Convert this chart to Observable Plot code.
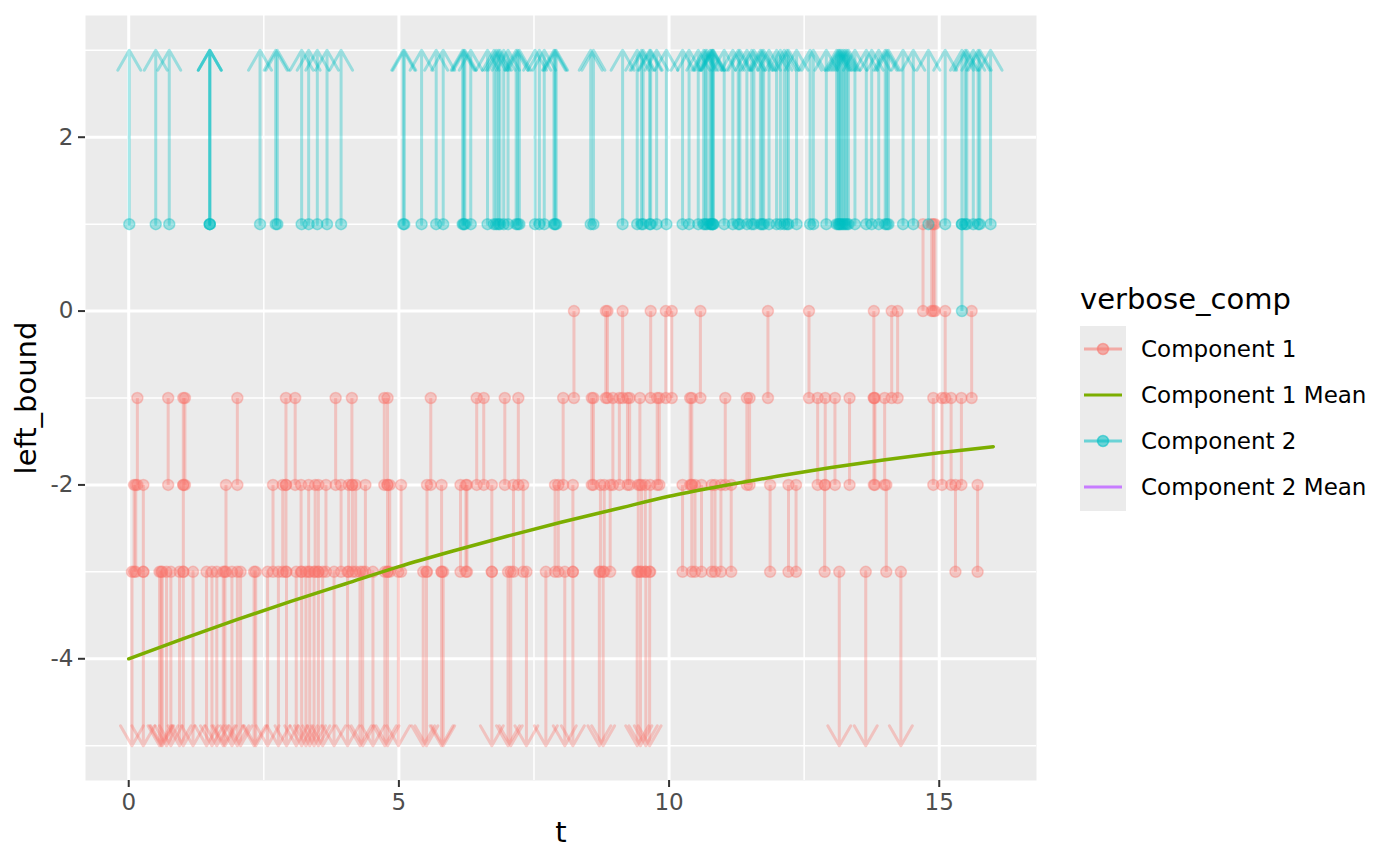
<!DOCTYPE html>
<html>
<head>
<meta charset="utf-8">
<script src="https://cdn.jsdelivr.net/npm/d3@7"></script>
<script src="https://cdn.jsdelivr.net/npm/@observablehq/plot@0.6"></script>
<style>
  html, body { margin: 0; padding: 0; background: #fff; }
  #wrap { position: relative; width: 1400px; height: 865px; font-family: "DejaVu Sans", sans-serif; }
  #wrap svg.chart { position: absolute; left: 0; top: 0; }
  #legend { position: absolute; left: 1040px; top: 0; }
  g[aria-label="x-axis tick"] path, g[aria-label="y-axis tick"] path { stroke: #333333; stroke-width: 2px; }
</style>
</head>
<body>
<div id="wrap"></div>
<script>
// ---------- data ----------
const compLabels = ["Component 1", "Component 1 Mean", "Component 2", "Component 2 Mean"];
const compColors = ["#F8766D", "#7CAE00", "#00BFC4", "#C77CFF"];

const xMajor = [0, 5, 10, 15];
const xMinor = [2.5, 7.5, 12.5];
const yMajor = [-4, -2, 0, 2];
const yMinor = [-5, -3, -1, 1, 3];

// where infinite bounds are drawn (arrow tips)
const infTop = 3;
const infBottom = -5;

// Component 1 intervals, by (left_bound, right_bound)
const c1_downTo_m3 = [0.06, 0.27, 0.57, 0.60, 0.62, 0.70, 0.78, 0.94, 1.01, 1.19, 1.44, 1.54, 1.63, 1.75, 1.78, 1.91,
  2.01, 2.07, 2.32, 2.35, 2.57, 2.77, 2.92, 3.10, 3.20, 3.28, 3.35, 3.43, 3.51, 3.59, 3.80, 4.05, 4.28, 4.33,
  4.52, 4.74, 4.79, 4.99, 5.45, 5.51, 5.79, 5.82, 6.72, 7.02, 7.07, 7.36, 7.72, 8.07, 8.22, 8.71, 8.78,
  9.41, 9.47, 9.57, 9.64, 13.15, 13.64, 14.29];
const c1_m3_m2 = [0.10, 0.13, 0.27, 1.01, 1.80, 2.67, 2.85, 2.91, 3.19, 3.33, 3.45, 3.51, 3.65, 3.93, 4.07, 4.14,
  4.20, 4.38, 4.79, 4.83, 5.04, 5.52, 5.79, 6.14, 6.24, 6.26, 6.72, 7.12, 7.30, 7.89, 7.95, 8.22, 8.73, 8.80,
  8.91, 9.43, 9.49, 9.56, 9.65, 10.25, 10.42, 10.48, 10.60, 10.79, 10.85, 10.96, 11.15, 11.87, 12.21, 12.35,
  12.88, 14.02, 15.30, 15.71];
const c1_m2_m1 = [0.16, 0.73, 1.01, 1.04, 2.01, 2.91, 3.08, 3.83, 4.13, 4.73, 4.79, 5.59, 6.44, 6.57, 6.96, 7.21,
  8.04, 8.57, 8.60, 8.96, 9.08, 9.23, 9.27, 9.46, 9.78, 9.82, 10.39, 10.42, 11.04, 11.44, 11.49, 12.75, 12.89,
  13.07, 13.34, 13.79, 13.81, 13.99, 14.89, 15.05, 15.22, 15.41];
const c1_m1_0 = [8.24, 8.83, 8.86, 9.14, 9.66, 9.94, 10.05, 10.58, 11.83, 12.59, 13.79, 14.12, 14.23, 15.11, 15.60];
const c1_0_1 = [14.70, 14.86, 14.89, 14.92];

// Component 2 intervals
const c2_1_up = [0.01, 0.50, 0.75, 1.50, 1.50, 1.50, 2.43, 2.72, 2.75, 3.20, 3.33, 3.49, 3.67, 3.93,
  5.08, 5.10, 5.42, 5.69, 5.82, 6.18, 6.20, 6.22, 6.33, 6.64, 6.76, 6.80, 6.84, 6.87, 6.94, 7.02, 7.17, 7.20,
  7.23, 7.52, 7.60, 7.69, 7.87, 7.89, 7.91, 8.55, 8.60, 9.14, 9.41, 9.49, 9.52, 9.64, 9.66, 9.77, 9.95,
  10.25, 10.37, 10.54, 10.64, 10.67, 10.70, 10.76, 10.78, 10.80, 10.81, 10.82, 11.02, 11.18, 11.28, 11.31,
  11.44, 11.53, 11.57, 11.69, 11.72, 11.75, 11.85, 11.99, 12.06, 12.13, 12.18, 12.21, 12.36, 12.61, 12.67,
  12.91, 13.10, 13.13, 13.15, 13.17, 13.20, 13.23, 13.26, 13.29, 13.32, 13.44, 13.65, 13.75, 13.88, 14.00,
  14.03, 14.06, 14.33, 14.52, 14.80, 15.11, 15.42, 15.48, 15.51, 15.63, 15.72, 15.75, 15.95];
const c2_0_1 = [15.42];

// Component 1 Mean curve
const meanT = [0, 1, 2, 3, 4, 5, 6, 7, 8, 9, 10, 11, 12, 13, 14, 15, 16];
const mean1 = [-4.00, -3.77, -3.55, -3.34, -3.14, -2.94, -2.76, -2.59, -2.43, -2.28, -2.13, -2.01, -1.90, -1.80, -1.71, -1.63, -1.56];

// ---------- build tables ----------
const rows = [];
function add(ts, lo, hi, comp) { for (const t of ts) rows.push({t, lo, hi, comp}); }
add(c1_downTo_m3, -Infinity, -3, compLabels[0]);
add(c1_m3_m2, -3, -2, compLabels[0]);
add(c1_m2_m1, -2, -1, compLabels[0]);
add(c1_m1_0, -1, 0, compLabels[0]);
add(c1_0_1, 0, 1, compLabels[0]);
add(c2_1_up, 1, Infinity, compLabels[2]);
add(c2_0_1, 0, 1, compLabels[2]);

const finite = rows.filter(d => isFinite(d.lo) && isFinite(d.hi));
const arrows = rows.filter(d => !isFinite(d.lo) || !isFinite(d.hi)).map(d => ({
  t: d.t, comp: d.comp,
  from: isFinite(d.lo) ? d.lo : d.hi,
  to: isFinite(d.lo) ? infTop : infBottom
}));
const points = [];
for (const d of rows) {
  if (isFinite(d.lo)) points.push({t: d.t, y: d.lo, comp: d.comp});
  if (isFinite(d.hi)) points.push({t: d.t, y: d.hi, comp: d.comp});
}
const meanData = meanT.map((t, i) => ({t, y: mean1[i], comp: compLabels[1]}));

const alpha = 0.35;

const chart = Plot.plot({
  width: 1040,
  height: 865,
  marginLeft: 85,
  marginRight: 4,
  marginTop: 15,
  marginBottom: 85,
  x: {domain: [-0.8, 16.8]},
  y: {domain: [-5.4, 3.4]},
  color: {domain: compLabels, range: compColors},
  style: {fontFamily: "DejaVu Sans", background: "transparent", overflow: "visible"},
  marks: [
    Plot.frame({fill: "#EBEBEB", stroke: null}),
    Plot.ruleY(yMinor, {stroke: "#ffffff", strokeWidth: 1.5}),
    Plot.ruleX(xMinor, {stroke: "#ffffff", strokeWidth: 1.5}),
    Plot.ruleY(yMajor, {stroke: "#ffffff", strokeWidth: 3}),
    Plot.ruleX(xMajor, {stroke: "#ffffff", strokeWidth: 3}),
    Plot.link(finite, {x1: "t", x2: "t", y1: "lo", y2: "hi", stroke: "comp", strokeOpacity: alpha, strokeWidth: 3}),
    Plot.arrow(arrows, {x1: "t", x2: "t", y1: "from", y2: "to", stroke: "comp", strokeOpacity: alpha,
      strokeWidth: 3, headAngle: 60, headLength: 11.5}),
    Plot.dot(points, {x: "t", y: "y", r: 5.5, fill: "comp", fillOpacity: alpha, stroke: "comp",
      strokeOpacity: alpha, strokeWidth: 1.5}),
    Plot.line(meanData, {x: "t", y: "y", stroke: "comp", strokeWidth: 3.5, curve: "monotone-x"}),
    Plot.axisX({ticks: xMajor, tickSize: 7, tickPadding: 6, fontSize: 23, color: "#4D4D4D",
      label: null, tickFormat: d => String(d)}),
    Plot.axisY({ticks: yMajor, tickSize: 7, tickPadding: 5, fontSize: 23, color: "#4D4D4D",
      label: null, tickFormat: d => String(d)}),
    Plot.text(["t"], {frameAnchor: "bottom", dy: 61, text: d => d, fontSize: 29, fill: "#000"}),
    Plot.text(["left_bound"], {frameAnchor: "left", dx: -59, rotate: -90, textAnchor: "middle",
      text: d => d, fontSize: 29, fill: "#000"})
  ]
});
chart.classList.add("chart");
const wrap = document.getElementById("wrap");
wrap.appendChild(chart);

// ---------- legend (right side) ----------
const ns = "http://www.w3.org/2000/svg";
const leg = document.createElementNS(ns, "svg");
leg.setAttribute("id", "legend");
leg.setAttribute("width", 360);
leg.setAttribute("height", 865);
leg.setAttribute("font-family", "DejaVu Sans");
function el(name, attrs, text) {
  const e = document.createElementNS(ns, name);
  for (const k in attrs) e.setAttribute(k, attrs[k]);
  if (text != null) e.textContent = text;
  leg.appendChild(e);
  return e;
}
el("text", {x: 40, y: 309, "font-size": 29, fill: "#000"}, "verbose_comp");
el("rect", {x: 40, y: 326, width: 46, height: 185, fill: "#EBEBEB"});
compLabels.forEach((lab, i) => {
  const cy = 349 + i * 46;
  const isMean = lab.endsWith("Mean");
  const op = isMean ? 1 : 0.55;
  el("line", {x1: 44, x2: 82, y1: cy, y2: cy, stroke: compColors[i], "stroke-width": 3, "stroke-opacity": op});
  if (!isMean) {
    el("circle", {cx: 63, cy: cy, r: 5.5, fill: compColors[i], "fill-opacity": op, stroke: compColors[i],
      "stroke-opacity": op, "stroke-width": 1.5});
  }
  el("text", {x: 101, y: cy, "font-size": 23, fill: "#000", "dominant-baseline": "central"}, lab);
});
wrap.appendChild(leg);
</script>
</body>
</html>
